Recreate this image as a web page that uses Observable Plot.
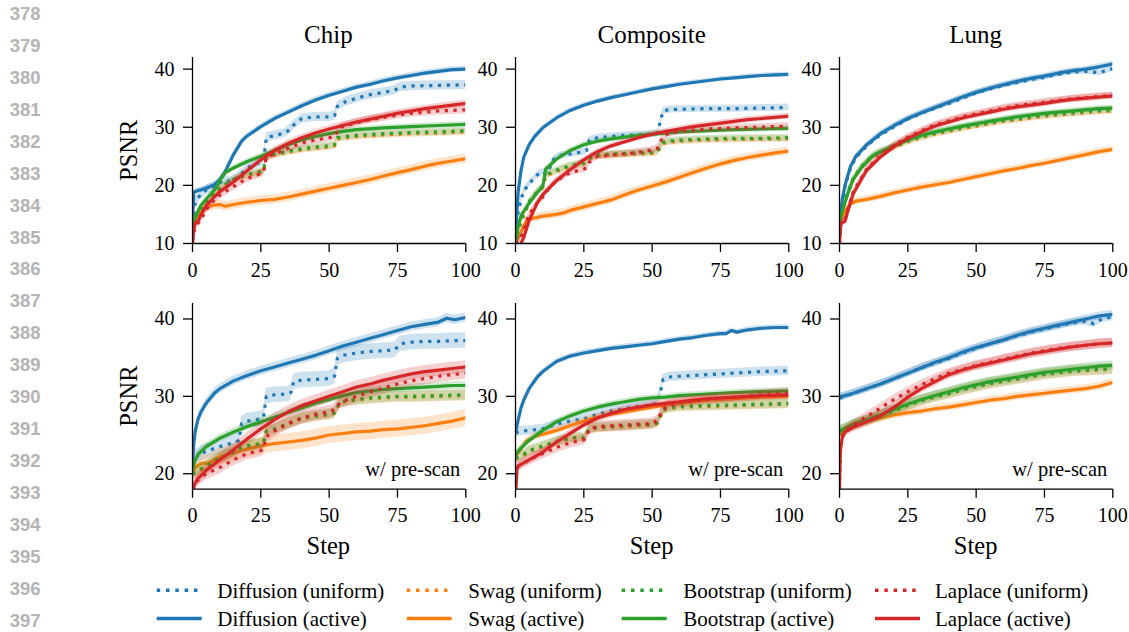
<!DOCTYPE html>
<html><head><meta charset="utf-8">
<script src="https://cdn.jsdelivr.net/npm/d3@7"></script>
<script src="https://cdn.jsdelivr.net/npm/@observablehq/plot@0.6"></script>
<style>
body{margin:0;background:#fff;}
#root{position:relative;width:1129px;height:632px;overflow:hidden;background:#fff;}
.panel{position:absolute;}
.panel svg{max-width:none !important;}
</style></head><body><div id="root"></div>
<script>
// ---------------- data ----------------
const datasets = ["Chip", "Composite", "Lung"];
const methods = ["Diffusion", "Swag", "Bootstrap", "Laplace"];
const variants = ["uniform", "active"];
const colors = ["#1f77b4", "#ff7f0e", "#2ca02c", "#d62728"];
const seriesNames = ["Diffusion (uniform)","Diffusion (active)","Swag (uniform)","Swag (active)","Bootstrap (uniform)","Bootstrap (active)","Laplace (uniform)","Laplace (active)"];
const xTicks = [0, 25, 50, 75, 100];
const yTicksTop = [10, 20, 30, 40];
const yTicksBottom = [20, 30, 40];
const yDomainTop = [10, 42];
const yDomainBottom = [18, 42];
const lineNumbers = [378,379,380,381,382,383,384,385,386,387,388,389,390,391,392,393,394,395,396,397];
const prescanLabel = "w/ pre-scan";
const xLabel = "Step";
const yLabel = "PSNR";

// each series: [step, PSNR] pairs; sd arrays follow seriesNames order
const chipTop = {
  "Diffusion (uniform)": [[0,13.5],[1,17],[3,18.5],[5,19.2],[8,19.8],[10,20.5],[12,21],[14,20.6],[16,21.2],[18,22],[20,23],[23,23.6],[26,24.2],[27,28.2],[30,28.6],[34,29],[36,29.8],[37,30.4],[40,31.5],[45,31.8],[50,31.8],[52,32],[53,33.6],[56,34.4],[60,35],[65,35.6],[70,36],[74,36.4],[76,36.9],[80,37.1],[90,37.2],[100,37.3]],
  "Diffusion (active)": [[0,14.5],[0.5,18.8],[2,19.1],[5,19.5],[8,20.1],[10,21],[12,22.4],[15,25.3],[18,27.6],[20,28.5],[25,30.1],[30,31.5],[35,32.6],[40,33.7],[45,34.7],[50,35.5],[55,36.2],[60,36.9],[65,37.4],[70,38],[75,38.5],[80,38.9],[85,39.3],[90,39.6],[95,39.9],[100,40]],
  "Swag (uniform)": [[0,13],[1,14.3],[3,15.8],[5,17],[8,18.4],[10,19.3],[13,20.3],[15,20.8],[18,21.4],[20,21.7],[25,22.2],[26,22.4],[27,24.7],[30,25.2],[35,25.7],[40,26.1],[45,26.4],[50,26.6],[52,26.8],[53,28],[56,28.2],[60,28.4],[70,28.7],[80,28.9],[90,29],[100,29.2]],
  "Swag (active)": [[0,13],[1,14.2],[2,14.8],[4,15.8],[6,16.4],[8,16.6],[10,16.7],[12,16.4],[15,16.7],[20,17.1],[25,17.4],[30,17.6],[35,18],[40,18.5],[45,19],[50,19.5],[55,20],[60,20.5],[65,21],[70,21.6],[75,22.2],[80,22.7],[85,23.3],[90,23.8],[95,24.2],[100,24.6]],
  "Bootstrap (uniform)": [[0,13.2],[1,14.5],[3,16],[5,17.2],[8,18.6],[10,19.5],[13,20.5],[15,21],[18,21.6],[20,21.9],[25,22.4],[26,22.6],[27,24.9],[30,25.4],[35,25.9],[40,26.3],[45,26.6],[50,26.8],[52,27],[53,28.2],[56,28.4],[60,28.6],[70,28.9],[80,29.1],[90,29.2],[100,29.4]],
  "Bootstrap (active)": [[0,13.3],[1,14.5],[3,16.5],[5,17.6],[8,19.2],[9,19.8],[10,20.8],[12,22.2],[15,23],[20,24.1],[25,25],[30,26],[35,27],[40,27.8],[45,28.4],[50,28.9],[55,29.3],[60,29.6],[70,29.9],[80,30.1],[90,30.3],[100,30.5]],
  "Laplace (uniform)": [[0,10.5],[1,13],[3,14],[5,15.8],[8,17.5],[10,18.3],[15,19.8],[20,21.2],[25,22],[26,22.3],[27,24.8],[30,25.4],[35,26.4],[40,27.3],[45,27.8],[50,28.2],[52,28.4],[54,30],[58,30.5],[60,30.8],[65,31.3],[70,31.7],[75,32.1],[80,32.4],[90,32.8],[100,33]],
  "Laplace (active)": [[0,10],[0.5,12.5],[1,13.5],[2,13.8],[3,14.8],[5,16.5],[8,18],[10,18.9],[15,20.6],[20,22.5],[25,24.4],[30,26],[35,27.2],[40,28.2],[45,29],[50,29.7],[55,30.3],[60,30.9],[65,31.4],[70,31.9],[75,32.4],[80,32.8],[85,33.2],[90,33.5],[95,33.8],[100,34.1]]
};
const chipTopSd = [0.8, 0.5, 0.6, 0.8, 0.6, 0.5, 0.7, 0.6];

const compositeTop = {
  "Diffusion (uniform)": [[0,12],[1,15.5],[2,17.5],[3,19],[5,20.3],[8,21.8],[10,22.4],[11,22],[12,22.5],[14,24.5],[16,25.1],[20,25.4],[25,25.8],[26,26],[27,27.8],[30,28.2],[35,28.4],[40,28.6],[45,28.7],[50,28.8],[52,29],[53,31],[54,32.8],[56,33],[60,33.1],[70,33.2],[80,33.2],[90,33.3],[100,33.4]],
  "Diffusion (active)": [[0,12],[1,19],[2,22.5],[3,24.8],[5,27],[7,28.4],[10,29.9],[15,31.6],[20,32.9],[25,33.8],[30,34.5],[35,35.1],[40,35.6],[45,36.1],[50,36.6],[55,37],[60,37.4],[65,37.7],[70,38],[75,38.3],[80,38.5],[85,38.7],[90,38.9],[95,39],[100,39.1]],
  "Swag (uniform)": [[0,10],[1,12.3],[3,14.8],[5,17],[8,18.8],[10,19.6],[11,21.6],[13,22],[15,22.4],[20,23.2],[25,23.7],[27,24.4],[28,24.8],[30,25],[35,25.2],[40,25.3],[45,25.4],[50,25.5],[52,25.7],[54,27.2],[56,27.4],[60,27.6],[70,27.8],[80,27.9],[90,28],[100,28]],
  "Swag (active)": [[0,10],[1,11],[2,12],[4,13.8],[6,14.3],[10,14.7],[15,15],[18,15.3],[20,15.7],[25,16.3],[30,16.9],[35,17.5],[40,18.4],[45,19.2],[50,19.9],[55,20.6],[60,21.4],[65,22.2],[70,23],[75,23.7],[80,24.3],[85,24.8],[90,25.2],[95,25.6],[100,25.9]],
  "Bootstrap (uniform)": [[0,10],[1,12.5],[3,15],[5,17.2],[8,19],[10,19.8],[11,21.8],[13,22.2],[15,22.6],[20,23.4],[25,23.9],[27,24.6],[28,25],[30,25.2],[35,25.4],[40,25.5],[45,25.6],[50,25.7],[52,25.9],[54,27.4],[56,27.6],[60,27.8],[70,28],[80,28.1],[90,28.1],[100,28.2]],
  "Bootstrap (active)": [[0,10],[1,13],[2,14.8],[5,16.9],[8,18.8],[10,19.8],[11,22.8],[13,23.6],[15,24.5],[20,26],[25,27],[30,27.6],[35,28],[40,28.3],[45,28.6],[50,28.8],[55,29],[60,29.2],[70,29.4],[80,29.6],[90,29.7],[100,29.8]],
  "Laplace (uniform)": [[0,10],[2,11],[3,12.5],[5,15],[8,17],[10,18],[12,19.3],[15,20.8],[20,22.2],[25,22.8],[26,23],[27,24],[30,25],[35,25.2],[40,25.4],[45,25.7],[50,26.1],[52,26.4],[54,28.4],[56,28.9],[60,29.3],[70,29.7],[80,29.9],[90,30],[100,30.2]],
  "Laplace (active)": [[2,10],[3,11],[5,14],[8,17],[10,18.4],[15,20.8],[20,22.7],[25,24.4],[30,25.8],[35,26.8],[40,27.5],[45,28.2],[50,28.8],[55,29.3],[60,29.7],[65,30.1],[70,30.4],[75,30.7],[80,31],[85,31.3],[90,31.5],[95,31.7],[100,31.9]]
};
const compositeTopSd = [0.6, 0.4, 0.6, 0.7, 0.6, 0.5, 0.6, 0.5];

const lungTop = {
  "Diffusion (uniform)": [[0,12],[1,17],[2,19.8],[4,23],[6,24.8],[10,26.8],[15,28.7],[20,30.1],[25,31.4],[30,32.4],[35,33.3],[40,34.1],[45,35],[50,35.9],[55,36.6],[60,37.2],[65,37.7],[70,38.2],[75,38.6],[80,39.1],[85,39.5],[90,39.6],[95,39.4],[98,39.8],[100,40.1]],
  "Diffusion (active)": [[0,12],[1,17.5],[2,20],[4,23.2],[6,25],[10,27],[15,28.9],[20,30.3],[25,31.5],[30,32.5],[35,33.4],[40,34.3],[45,35.2],[50,36],[55,36.7],[60,37.3],[65,37.9],[70,38.4],[75,38.8],[80,39.3],[85,39.7],[90,40],[95,40.4],[100,40.9]],
  "Swag (uniform)": [[0,13.3],[1,15.6],[3,18.6],[5,21],[8,23],[10,24],[12,24.9],[15,25.6],[20,26.5],[25,27.5],[30,28.2],[35,28.8],[40,29.3],[45,29.8],[50,30.2],[55,30.6],[60,31],[65,31.3],[70,31.6],[75,31.9],[80,32.1],[85,32.3],[90,32.5],[95,32.7],[100,32.8]],
  "Swag (active)": [[0,13],[1,14.5],[2,15.5],[4,16.8],[6,17.3],[10,17.6],[15,18.1],[20,18.7],[25,19.2],[30,19.7],[35,20.1],[40,20.5],[45,21],[50,21.5],[55,22],[60,22.5],[65,22.9],[70,23.4],[75,23.8],[80,24.3],[85,24.8],[90,25.3],[95,25.8],[100,26.2]],
  "Bootstrap (uniform)": [[0,13.5],[1,15.8],[3,18.8],[5,21.2],[8,23.2],[10,24.2],[12,25.1],[15,25.8],[20,26.7],[25,27.7],[30,28.4],[35,29],[40,29.5],[45,30],[50,30.4],[55,30.8],[60,31.2],[65,31.5],[70,31.8],[75,32.1],[80,32.3],[85,32.5],[90,32.7],[95,32.9],[100,33]],
  "Bootstrap (active)": [[0,13.5],[1,15.5],[3,18.5],[5,21],[8,23],[10,24],[12,25],[15,25.8],[20,26.8],[25,27.8],[30,28.6],[35,29.2],[40,29.7],[45,30.2],[50,30.6],[55,31],[60,31.4],[65,31.8],[70,32.1],[75,32.4],[80,32.6],[85,32.8],[90,33],[95,33.2],[100,33.3]],
  "Laplace (uniform)": [[0,10],[0.5,13.5],[2,13.9],[3,15.8],[5,18.8],[8,21.3],[10,22.8],[15,25.1],[20,26.9],[25,28.3],[30,29.4],[35,30.4],[40,31.1],[45,31.8],[50,32.3],[55,32.8],[60,33.3],[65,33.7],[70,34],[75,34.3],[80,34.6],[85,34.9],[90,35.1],[95,35.3],[100,35.5]],
  "Laplace (active)": [[0,10],[0.5,13.5],[2,13.8],[3,15.5],[5,18.5],[8,21],[10,22.6],[15,24.9],[20,26.7],[25,28.1],[30,29.2],[35,30.2],[40,30.9],[45,31.6],[50,32.1],[55,32.6],[60,33.1],[65,33.5],[70,33.8],[75,34.1],[80,34.5],[85,34.8],[90,35],[95,35.2],[100,35.4]]
};
const lungTopSd = [0.5, 0.5, 0.6, 0.6, 0.6, 0.5, 0.6, 0.6];

const chipBottom = {
  "Diffusion (uniform)": [[0,21],[1,22],[3,22.6],[5,22.9],[10,23.5],[15,24],[17,24.3],[18,26.5],[20,26.8],[25,27.1],[26,27.3],[27,30],[30,30.2],[35,30.3],[36,30.5],[37,31.9],[40,32.1],[45,32.2],[50,32.3],[52,32.6],[53,34.9],[55,35.3],[60,35.6],[65,35.8],[70,35.9],[74,36],[76,36.8],[80,37],[85,37.1],[90,37.1],[95,37.2],[100,37.2]],
  "Diffusion (active)": [[0,21.5],[0.5,24],[1,25.5],[2,27],[3,27.9],[5,29.1],[8,30.4],[10,31],[15,32],[20,32.7],[25,33.3],[30,33.8],[35,34.3],[40,34.8],[45,35.3],[50,35.9],[55,36.5],[60,37],[65,37.5],[70,38],[75,38.5],[80,39],[85,39.3],[90,39.6],[93,40.1],[96,39.9],[100,40.2]],
  "Swag (uniform)": [[0,19.9],[2,20.3],[5,20.9],[10,22],[15,22.7],[18,23.3],[20,23.5],[25,23.8],[26,24],[27,25.4],[30,25.7],[35,26.4],[40,27.1],[45,27.4],[50,27.6],[52,27.8],[54,29.2],[60,29.5],[65,29.7],[70,29.8],[75,29.9],[80,29.9],[90,30],[100,30.1]],
  "Swag (active)": [[0,20],[1,20.8],[3,21.3],[6,21.4],[8,21.8],[10,22.2],[15,22.7],[20,23.2],[25,23.6],[30,23.9],[35,24.1],[40,24.3],[45,24.6],[50,25],[55,25.2],[60,25.4],[65,25.5],[70,25.7],[75,25.8],[80,26],[85,26.2],[90,26.5],[95,26.8],[100,27.2]],
  "Bootstrap (uniform)": [[0,20],[2,20.4],[5,21],[10,22.1],[15,22.8],[18,23.4],[20,23.6],[25,23.9],[26,24.1],[27,25.5],[30,25.8],[35,26.5],[40,27.2],[45,27.5],[50,27.7],[52,27.9],[54,29.3],[60,29.6],[65,29.8],[70,29.9],[75,30],[80,30],[90,30.1],[100,30.2]],
  "Bootstrap (active)": [[0,20.5],[1,21.8],[2,22.5],[5,23.5],[10,24.6],[15,25.4],[20,26.1],[25,26.7],[30,27.3],[35,27.9],[40,28.5],[45,29.1],[50,29.6],[55,30.1],[60,30.5],[65,30.7],[70,30.9],[75,31],[80,31.1],[85,31.2],[90,31.3],[95,31.4],[100,31.4]],
  "Laplace (uniform)": [[0,18],[2,19.2],[5,20],[10,20.8],[15,21.8],[20,22.6],[25,23],[26,23.2],[27,24.8],[30,25.5],[35,26.5],[40,27.2],[45,27.7],[50,28],[52,28.3],[54,29.2],[60,30],[65,30.6],[70,31.1],[75,31.6],[80,32],[85,32.3],[90,32.6],[95,32.8],[100,33]],
  "Laplace (active)": [[0,18],[1,18.8],[2,19.4],[5,20.4],[10,21.8],[15,23.1],[20,24.5],[25,25.8],[30,27],[35,28],[40,28.8],[45,29.4],[50,30],[55,30.6],[60,31.2],[65,31.6],[70,32.1],[75,32.5],[80,32.9],[85,33.2],[90,33.4],[95,33.6],[100,33.8]]
};
const chipBottomSd = [1.0, 0.6, 0.7, 1.1, 0.7, 0.5, 0.8, 0.8];

const compositeBottom = {
  "Diffusion (uniform)": [[0,25.3],[2,25.5],[5,25.6],[10,25.8],[15,26.4],[20,26.8],[25,27.1],[30,27.7],[35,28.1],[40,28.4],[45,28.7],[50,28.9],[52,29.2],[53,30.5],[54,32.2],[56,32.5],[60,32.6],[70,32.8],[80,33],[90,33.2],[100,33.3]],
  "Diffusion (active)": [[0,25.3],[1,27],[2,28.5],[3,29.5],[5,31],[8,32.5],[10,33.2],[15,34.5],[20,35.2],[25,35.6],[30,35.9],[35,36.2],[40,36.4],[45,36.6],[50,36.8],[55,37.1],[60,37.4],[65,37.6],[70,37.9],[75,38.1],[77,38.1],[79,38.5],[81,38.3],[85,38.6],[90,38.8],[95,38.9],[100,38.9]],
  "Swag (uniform)": [[0,21.9],[3,22.4],[5,22.9],[10,23.5],[15,24.1],[20,24.5],[24,24.7],[25,24.5],[27,25.7],[30,25.9],[35,26],[40,26.1],[45,26.2],[50,26.3],[52,26.5],[54,28.2],[56,28.4],[60,28.6],[70,28.7],[80,28.8],[90,28.9],[100,29]],
  "Swag (active)": [[0,22.3],[2,23.2],[4,24.2],[7,24.8],[10,25.1],[15,25.6],[20,26.2],[25,26.8],[30,27.3],[35,27.7],[40,28],[45,28.3],[50,28.6],[55,28.9],[60,29.1],[65,29.3],[70,29.5],[75,29.6],[80,29.7],[90,29.9],[100,30]],
  "Bootstrap (uniform)": [[0,22],[3,22.5],[5,23],[10,23.6],[15,24.2],[20,24.6],[24,24.8],[25,24.6],[27,25.8],[30,26],[35,26.1],[40,26.2],[45,26.3],[50,26.4],[52,26.6],[54,28.3],[56,28.5],[60,28.7],[70,28.8],[80,28.9],[90,29],[100,29.1]],
  "Bootstrap (active)": [[0,22.5],[2,23.3],[5,24.3],[10,25.6],[15,26.7],[20,27.5],[25,28.1],[30,28.6],[35,29],[40,29.3],[45,29.6],[50,29.8],[55,29.9],[60,30.1],[70,30.3],[75,30.4],[80,30.5],[90,30.6],[100,30.7]],
  "Laplace (uniform)": [[0,17.5],[0.5,20.5],[1,21],[5,21.8],[10,22.6],[15,23.4],[20,24],[25,24.4],[26,24.7],[27,25.8],[30,26.1],[35,26.2],[40,26.3],[45,26.4],[50,26.5],[52,26.9],[54,28.4],[56,28.8],[60,29.2],[70,29.6],[80,29.9],[90,30.2],[100,30.4]],
  "Laplace (active)": [[0,17],[0.5,20.5],[1,21],[2,21.2],[5,21.8],[10,22.8],[15,24.1],[20,25.2],[25,26.3],[30,27.2],[35,27.8],[40,28.3],[45,28.6],[50,28.9],[55,29.1],[60,29.3],[65,29.5],[70,29.7],[75,29.8],[80,29.9],[90,30.1],[100,30.2]]
};
const compositeBottomSd = [0.6, 0.35, 0.6, 0.5, 0.6, 0.4, 0.7, 0.5];

const lungBottom = {
  "Diffusion (uniform)": [[0,29.8],[5,30.4],[10,31],[15,31.6],[20,32.3],[25,33],[30,33.7],[35,34.3],[40,34.9],[45,35.6],[50,36.2],[55,36.8],[60,37.3],[65,37.8],[70,38.3],[75,38.7],[80,39.1],[85,39.5],[90,39.7],[93,39.4],[96,40],[100,40.3]],
  "Diffusion (active)": [[0,29.9],[5,30.4],[10,31],[15,31.6],[20,32.3],[25,33],[30,33.7],[35,34.4],[40,35],[45,35.7],[50,36.3],[55,36.8],[60,37.3],[65,37.9],[70,38.4],[75,38.8],[80,39.2],[85,39.6],[90,40],[95,40.4],[100,40.6]],
  "Swag (uniform)": [[0,25.4],[5,26.2],[10,26.8],[15,27.4],[20,28.1],[25,28.8],[30,29.4],[35,29.9],[40,30.3],[45,30.8],[50,31.2],[55,31.6],[60,31.9],[65,32.2],[70,32.5],[75,32.8],[80,33],[85,33.2],[90,33.3],[95,33.4],[100,33.5]],
  "Swag (active)": [[0,25],[2,25.6],[5,26.2],[10,26.8],[15,27.2],[20,27.6],[25,27.9],[30,28.1],[35,28.4],[40,28.6],[45,28.9],[50,29.2],[55,29.5],[60,29.7],[65,30],[70,30.2],[75,30.4],[80,30.6],[85,30.8],[90,31],[95,31.3],[100,31.8]],
  "Bootstrap (uniform)": [[0,25.5],[5,26.3],[10,26.9],[15,27.5],[20,28.2],[25,28.9],[30,29.5],[35,30],[40,30.4],[45,30.9],[50,31.3],[55,31.7],[60,32],[65,32.3],[70,32.6],[75,32.9],[80,33.1],[85,33.3],[90,33.4],[95,33.5],[100,33.6]],
  "Bootstrap (active)": [[0,25.5],[5,26.4],[10,27],[15,27.6],[20,28.3],[25,29],[30,29.6],[35,30.1],[40,30.6],[45,31.1],[50,31.5],[55,31.9],[60,32.2],[65,32.5],[70,32.8],[75,33.1],[80,33.3],[85,33.5],[90,33.7],[95,33.9],[100,34]],
  "Laplace (uniform)": [[0,18],[0.3,23],[1,24.8],[2,25.5],[5,26.3],[10,27.4],[15,28.5],[20,29.6],[25,30.6],[30,31.5],[35,32.3],[40,33],[45,33.5],[50,34],[55,34.4],[60,34.8],[65,35.2],[70,35.6],[75,35.9],[80,36.2],[85,36.4],[90,36.6],[95,36.8],[100,36.9]],
  "Laplace (active)": [[0,18],[0.3,23],[1,24.6],[2,25.4],[5,26],[10,26.7],[15,27.5],[20,28.6],[25,29.9],[30,31],[35,31.9],[40,32.8],[45,33.4],[50,33.9],[55,34.3],[60,34.7],[65,35.1],[70,35.5],[75,35.8],[80,36.1],[85,36.4],[90,36.6],[95,36.8],[100,36.9]]
};
const lungBottomSd = [0.5, 0.5, 0.7, 0.5, 0.7, 0.6, 0.6, 0.6];

// ---------------- layout ----------------
const panelLeft = [191.7, 515, 839];
const panelWidth = 273.3;
const rowTop = [57.3, 303.3];
const rowHeight = [186, 185.7];
const ML = 60, MR = 10, MT = 10, MB = 40;
const serif = "'Liberation Serif', 'Times New Roman', serif";

const root = document.getElementById("root");

function makePanel(series, sd, yDomain, yTicks, prescan) {
  const marks = [];
  methods.forEach((m, mi) => {
    variants.forEach(v => {
      const key = `${m} (${v})`;
      const s = sd[seriesNames.indexOf(key)];
      const pts = series[key].map(([step, psnr]) => ({step, psnr, lo: psnr - s, hi: psnr + s}));
      marks.push(Plot.areaY(pts, {x: "step", y1: "lo", y2: "hi", fill: colors[mi], fillOpacity: 0.22, clip: true}));
      marks.push(Plot.lineY(pts, {
        x: "step", y: "psnr", stroke: colors[mi], strokeWidth: 3.2,
        strokeDasharray: v === "uniform" ? "3.2,5.6" : null,
        strokeLinecap: v === "uniform" ? "butt" : "square",
        strokeLinejoin: "round", clip: true
      }));
    });
  });
  marks.push(Plot.ruleX([0], {stroke: "black", strokeWidth: 1.3}));
  marks.push(Plot.ruleY([yDomain[0]], {stroke: "black", strokeWidth: 1.3}));
  marks.push(Plot.axisX({ticks: xTicks, tickSize: 9, tickPadding: 10, strokeWidth: 1.3, label: null, fontSize: 20}));
  marks.push(Plot.axisY({ticks: yTicks, tickSize: 9, tickPadding: 9, strokeWidth: 1.3, label: null, fontSize: 20}));
  if (prescan) {
    marks.push(Plot.text([prescanLabel], {frameAnchor: "bottom-right", text: d => d, textAnchor: "end", lineAnchor: "bottom", dx: -5.5, dy: -13, fontSize: 20.5, fill: "black"}));
  }
  return marks;
}

const panels = [
  [chipTop, chipTopSd, 0, 0], [compositeTop, compositeTopSd, 1, 0], [lungTop, lungTopSd, 2, 0],
  [chipBottom, chipBottomSd, 0, 1], [compositeBottom, compositeBottomSd, 1, 1], [lungBottom, lungBottomSd, 2, 1]
];

panels.forEach(([series, sd, col, row]) => {
  const yDomain = row === 0 ? yDomainTop : yDomainBottom;
  const yTicks = row === 0 ? yTicksTop : yTicksBottom;
  const w = ML + panelWidth + MR;
  const h = MT + rowHeight[row] + MB;
  const chart = Plot.plot({
    width: w,
    height: h,
    marginLeft: ML, marginRight: MR, marginTop: MT, marginBottom: MB,
    x: {domain: [0, 100]},
    y: {domain: yDomain},
    style: {fontFamily: serif, fontSize: "20px", color: "black", background: "transparent", overflow: "visible", maxWidth: "none"},
    marks: makePanel(series, sd, yDomain, yTicks, row === 1)
  });
  const div = document.createElement("div");
  div.className = "panel";
  div.style.left = (panelLeft[col] - ML) + "px";
  div.style.top = (rowTop[row] - MT) + "px";
  div.style.width = w + "px";
  div.style.height = h + "px";
  div.appendChild(chart);
  root.appendChild(div);
});

// ---------------- text overlay & legend ----------------
const overlay = d3.select(root).append("svg")
  .attr("width", 1129).attr("height", 632)
  .style("position", "absolute").style("left", "0px").style("top", "0px")
  .style("pointer-events", "none");

overlay.selectAll("text.ln").data(lineNumbers).join("text")
  .attr("class", "ln")
  .attr("x", 40.5).attr("y", (d, i) => 20 + i * 31.93)
  .attr("text-anchor", "end")
  .attr("font-family", "'Liberation Sans', Arial, sans-serif")
  .attr("font-weight", "bold").attr("font-size", 18.5).attr("fill", "#b4b4b4")
  .text(d => d);

overlay.selectAll("text.title").data(datasets).join("text")
  .attr("class", "title")
  .attr("x", (d, i) => panelLeft[i] + panelWidth / 2).attr("y", 42.5)
  .attr("text-anchor", "middle").attr("font-family", serif).attr("font-size", 25).attr("fill", "black")
  .text(d => d);

rowTop.forEach((t, r) => {
  overlay.append("text")
    .attr("transform", `translate(136.5,${t + rowHeight[r] / 2}) rotate(-90)`)
    .attr("text-anchor", "middle").attr("font-family", serif).attr("font-size", 24.5).attr("fill", "black")
    .text(yLabel);
});

panelLeft.forEach(l => {
  overlay.append("text")
    .attr("x", l + panelWidth / 2).attr("y", 553.5)
    .attr("text-anchor", "middle").attr("font-family", serif).attr("font-size", 24.5).attr("fill", "black")
    .text(xLabel);
});

const legendHandleX = [156.7, 406.7, 621.7, 875];
const legendTextX = [217.3, 468.3, 683.3, 935];
const legendRowY = [590.3, 618.6];
methods.forEach((m, mi) => {
  variants.forEach((v, vi) => {
    const y = legendRowY[vi];
    overlay.append("line")
      .attr("x1", legendHandleX[mi]).attr("x2", legendHandleX[mi] + 45)
      .attr("y1", y).attr("y2", y)
      .attr("stroke", colors[mi]).attr("stroke-width", 3.5)
      .attr("stroke-dasharray", v === "uniform" ? "3.5,5.8" : null);
    overlay.append("text")
      .attr("x", legendTextX[mi]).attr("y", y + 7.3)
      .attr("font-family", serif).attr("font-size", 21).attr("fill", "black")
      .text(`${m} (${v})`);
  });
});
</script>
</body></html>
